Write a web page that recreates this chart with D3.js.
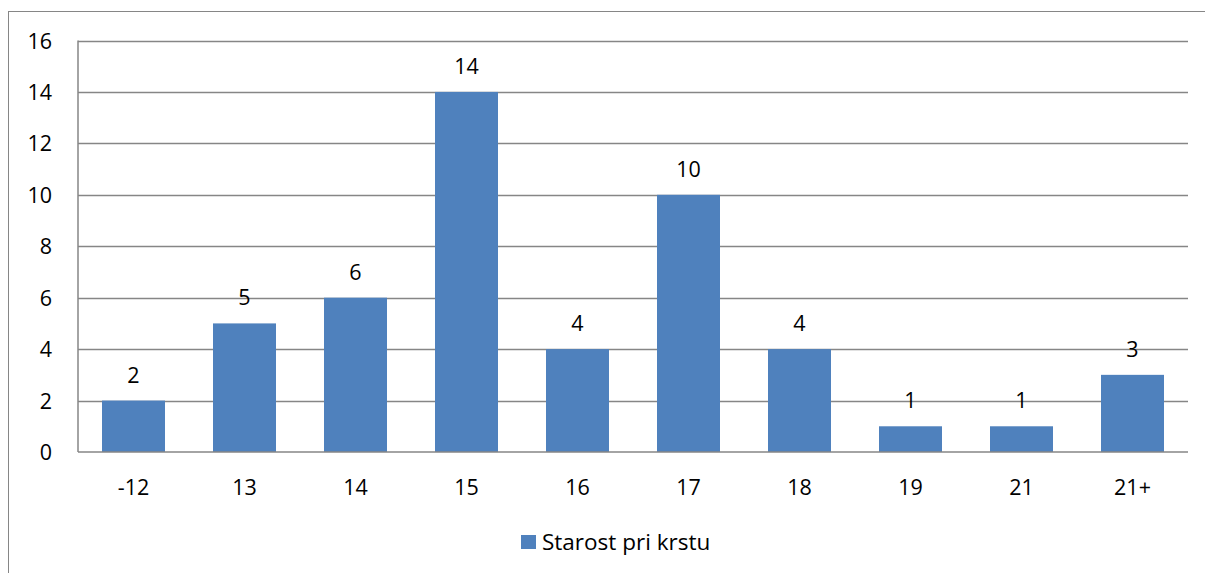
<!DOCTYPE html>
<html><head><meta charset="utf-8">
<script src="https://cdn.jsdelivr.net/npm/d3@7"></script>
<style>body{margin:0;background:#fff}svg{display:block}text{font-family:"Open Sans",Lato,sans-serif;fill:#000}</style>
</head><body><svg id="c" width="1205" height="573"></svg>
<script>
const categories = ["-12","13","14","15","16","17","18","19","21","21+"];
const values = [2,5,6,14,4,10,4,1,1,3];
const yTicks = [0,2,4,6,8,10,12,14,16];
const seriesName = "Starost pri krstu";

const svg = d3.select("#c");
const m = {l:78, r:1188, t:40.5, b:452};
const FS = 21.5;
svg.append("rect").attr("x",8.5).attr("y",11.5).attr("width",1210).attr("height",600)
  .attr("fill","none").attr("stroke","#868686").attr("stroke-width",1);

const gap = (111-63)/111;
const x = d3.scaleBand().domain(categories).range([m.l,m.r]).paddingInner(gap).paddingOuter(gap/2);
const y = d3.scaleLinear().domain([0,16]).range([m.b,m.t]);

// gridlines
svg.append("g").selectAll("line").data(yTicks.filter(d=>d>0)).join("line")
  .attr("x1",m.l).attr("x2",m.r).attr("y1",d=>Math.round(y(d))+0.5).attr("y2",d=>Math.round(y(d))+0.5)
  .attr("stroke","#868686").attr("stroke-width",1.5);

// bars
svg.append("g").selectAll("rect").data(values).join("rect")
  .attr("x",(d,i)=>x(categories[i])).attr("width",x.bandwidth())
  .attr("y",d=>y(d)).attr("height",d=>y(0)-y(d)).attr("fill","#4F81BD");

// axes lines
svg.append("line").attr("x1",m.l).attr("x2",m.l).attr("y1",m.t).attr("y2",m.b).attr("stroke","#868686").attr("stroke-width",1.5);
svg.append("line").attr("x1",m.l).attr("x2",m.r).attr("y1",m.b).attr("y2",m.b).attr("stroke","#868686").attr("stroke-width",1.5);

// y labels
svg.append("g").selectAll("text").data(yTicks).join("text")
  .attr("x",52).attr("y",d=>y(d)+8).attr("text-anchor","end").attr("font-size",FS).text(d=>d);

// x labels
svg.append("g").selectAll("text").data(categories).join("text")
  .attr("x",d=>x(d)+x.bandwidth()/2).attr("y",495).attr("text-anchor","middle").attr("font-size",FS).text(d=>d);

// value labels
svg.append("g").selectAll("text").data(values).join("text")
  .attr("x",(d,i)=>x(categories[i])+x.bandwidth()/2).attr("y",d=>y(d)-18).attr("text-anchor","middle").attr("font-size",FS).text(d=>d);

// legend
svg.append("rect").attr("x",521).attr("y",535).attr("width",15).attr("height",14).attr("fill","#4F81BD");
svg.append("text").attr("x",542).attr("y",550).attr("font-size",22.5).text(seriesName);
</script></body></html>
